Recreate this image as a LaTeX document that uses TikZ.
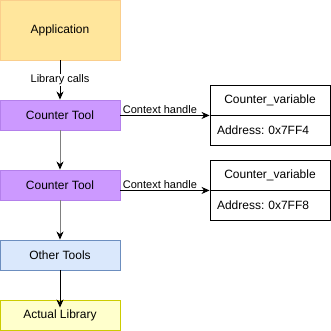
\documentclass[tikz,border=0pt]{standalone}
\usepackage{fontspec}
\setmainfont{Liberation Sans}
\usetikzlibrary{arrows.meta, positioning}
\frenchspacing
\definecolor{appfill}{RGB}{255,230,156}
\definecolor{appdraw}{RGB}{250,206,140}
\definecolor{ctfill}{RGB}{204,153,255}
\definecolor{ctdraw}{RGB}{180,128,235}
\definecolor{otfill}{RGB}{218,232,252}
\definecolor{otdraw}{RGB}{108,142,191}
\definecolor{libfill}{RGB}{255,255,204}
\definecolor{libdraw}{RGB}{204,204,0}
\tikzset{
  stack box/.style={
    rectangle, draw, line width=0.9pt,
    minimum width=120pt, minimum height=30pt,
    inner sep=2pt, text centered, font=\fontsize{12}{14}\selectfont
  },
  var head/.style={
    rectangle, draw=black, line width=0.9pt,
    minimum width=120pt, minimum height=30pt,
    inner sep=2pt, font=\fontsize{12}{14}\selectfont
  },
  var addr/.style={
    var head, text width=106pt, inner xsep=7pt, align=left
  },
  call arrow/.style={
    -{Stealth[length=8pt, width=7pt, inset=2.5pt]}, line width=0.9pt, draw=black
  },
  edge label/.style={
    font=\fontsize{11}{13}\selectfont, inner sep=1pt
  }
}

\begin{document}
\begin{tikzpicture}[x=1pt, y=-1pt]
\useasboundingbox (0,0) rectangle (331,331);

% ====== left column: call stack ======
\node[stack box, fill=appfill, draw=appdraw, minimum height=60pt] (app) at (60,30) {Application};
\node[stack box, fill=ctfill, draw=ctdraw] (ct1) at (60,115) {Counter Tool};
\node[stack box, fill=ctfill, draw=ctdraw] (ct2) at (60,185) {Counter Tool};
\node[stack box, fill=otfill, draw=otdraw] (ot) at (60,255) {Other Tools};
\node[stack box, fill=libfill, draw=libdraw] (lib) at (60,315) {Actual Library};

% ====== right column: counter variables ======
\node[var head] (v1h) at (270,100) {Counter\_variable};
\node[var addr] (v1a) at (270,130) {Address: 0x7FF4};
\node[var head] (v2h) at (270,175) {Counter\_variable};
\node[var addr] (v2a) at (270,205) {Address: 0x7FF8};

% ====== connectors ======
\draw[call arrow] (app) -- node[edge label, fill=white] {Library calls} (ct1);
\draw[call arrow, draw=gray, -{Stealth[length=8pt, width=7pt, inset=2.5pt, black]}] (ct1) -- (ct2);
\draw[call arrow, draw=gray, -{Stealth[length=8pt, width=7pt, inset=2.5pt, black]}] (ct2) -- (ot);
\draw[call arrow] (ot) -- ([yshift=-8pt]lib.north);

\draw[call arrow] (ct1.east |- v1h.south west) -- node[edge label, pos=0, anchor=south west, xshift=1pt] {Context handle} (v1h.south west);
\draw[call arrow] (ct2.east |- v2h.south west) -- node[edge label, pos=0, anchor=south west, xshift=1pt] {Context handle} (v2h.south west);

\end{tikzpicture}
\end{document}
